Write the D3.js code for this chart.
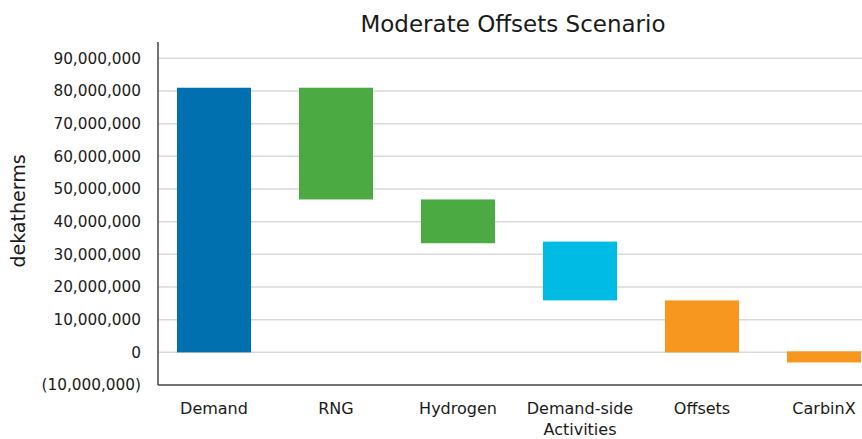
<!DOCTYPE html>
<html>
<head>
<meta charset="utf-8">
<script src="https://cdn.jsdelivr.net/npm/d3@7"></script>
<style>
  body { margin: 0; background: #fff; }
  text { font-family: "DejaVu Sans", sans-serif; fill: #1a1a1a; }
</style>
</head>
<body>
<svg id="chart" width="862" height="439"></svg>
<script>
const categories = ["Demand", "RNG", "Hydrogen", "Demand-side Activities", "Offsets", "CarbinX"];
// bar start / end for each step of the waterfall (dekatherms)
const barStart = [0, 81000000, 46800000, 33900000, 15900000, 300000];
const barEnd = [81000000, 46800000, 33400000, 15900000, 0, -3100000];
const yTicks = [-10000000, 0, 10000000, 20000000, 30000000, 40000000, 50000000, 60000000, 70000000, 80000000, 90000000];

const colors = {
  "Demand": "#0070af",
  "RNG": "#4baa42",
  "Hydrogen": "#4baa42",
  "Demand-side Activities": "#00bbe3",
  "Offsets": "#f7971f",
  "CarbinX": "#f7971f"
};

const svg = d3.select("#chart");
const dim = {left: 158, right: 862, top: 42, bottom: 385};

const x = d3.scaleBand()
  .domain(categories)
  .range([153, 885])
  .paddingInner(0.393)
  .paddingOuter(0.1965);

const y = d3.scaleLinear()
  .domain([-10000000, 95000000])
  .range([dim.bottom, dim.top]);

const fmt = d => d < 0 ? "(" + d3.format(",")(-d) + ")" : d3.format(",")(d);

// gridlines
svg.append("g")
  .selectAll("line")
  .data(yTicks.filter(d => d > -10000000))
  .join("line")
  .attr("x1", dim.left).attr("x2", dim.right)
  .attr("y1", d => y(d)).attr("y2", d => y(d))
  .attr("stroke", "#d9d9d9")
  .attr("stroke-width", 1.5);

// bars
svg.append("g")
  .selectAll("rect")
  .data(categories)
  .join("rect")
  .attr("x", d => x(d))
  .attr("width", x.bandwidth())
  .attr("y", (d, i) => y(Math.max(barStart[i], barEnd[i])))
  .attr("height", (d, i) => Math.abs(y(barStart[i]) - y(barEnd[i])))
  .attr("fill", d => colors[d]);

// y axis
const yAxis = svg.append("g")
  .attr("transform", `translate(${dim.left},0)`)
  .call(d3.axisLeft(y).tickValues(yTicks).tickFormat(fmt).tickSize(0).tickPadding(17));
yAxis.select(".domain").attr("stroke", "#444").attr("stroke-width", 1.5)
  .attr("d", `M0,${dim.top}V${dim.bottom}`);
yAxis.selectAll("text").style("font-size", "15.3px").attr("fill", "#1a1a1a")
  .style("font-family", "DejaVu Sans");

// x axis line
svg.append("line")
  .attr("x1", dim.left).attr("x2", dim.right)
  .attr("y1", dim.bottom).attr("y2", dim.bottom)
  .attr("stroke", "#444").attr("stroke-width", 1.5);

// category labels (wrap long ones)
const labels = svg.append("g").selectAll("text")
  .data(categories)
  .join("text")
  .attr("text-anchor", "middle")
  .attr("x", d => x(d) + x.bandwidth() / 2)
  .attr("y", 414)
  .style("font-size", "16px");
labels.each(function(d) {
  const parts = d === "Demand-side Activities" ? ["Demand-side", "Activities"] : [d];
  const t = d3.select(this);
  parts.forEach((p, i) => {
    t.append("tspan")
      .attr("x", x(d) + x.bandwidth() / 2)
      .attr("dy", i ? 21 : 0)
      .text(p);
  });
});

// title
svg.append("text")
  .attr("x", 513).attr("y", 32)
  .attr("text-anchor", "middle")
  .style("font-size", "23px")
  .text("Moderate Offsets Scenario");

// y label
svg.append("text")
  .attr("transform", "translate(25,211) rotate(-90)")
  .attr("text-anchor", "middle")
  .style("font-size", "19px")
  .text("dekatherms");
</script>
</body>
</html>
